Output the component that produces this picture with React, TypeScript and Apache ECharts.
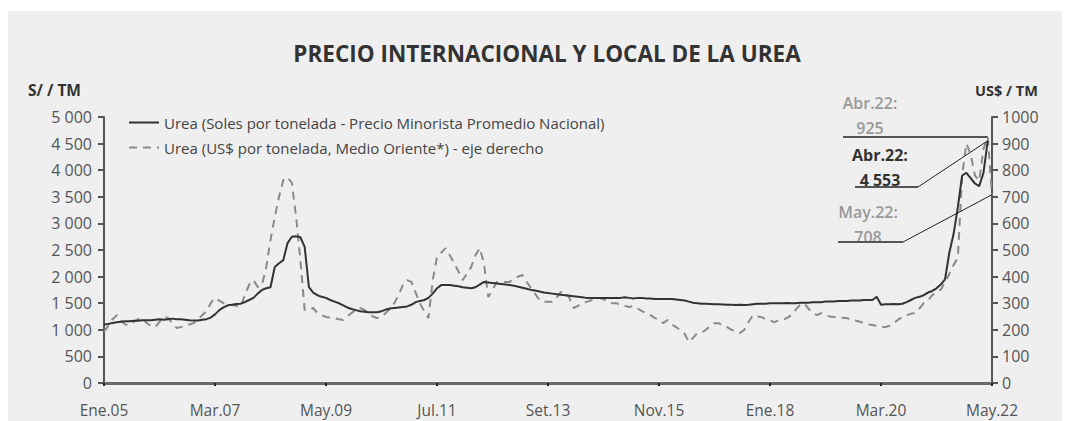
import React, { useEffect, useRef } from "react";
import * as echarts from "echarts";

const MONTHS = ["Ene", "Feb", "Mar", "Abr", "May", "Jun", "Jul", "Ago", "Set", "Oct", "Nov", "Dic"];
const FIRST_YEAR = 2005;
const LAST_YEAR = 2022;
const LAST_MONTH_INDEX = 4; // May

// Urea – Soles por tonelada (precio minorista promedio nacional), eje izquierdo
const soles2005 = [1100, 1110, 1130, 1140, 1150, 1160, 1160, 1170, 1170, 1180, 1180, 1180];
const soles2006 = [1190, 1200, 1190, 1200, 1210, 1200, 1200, 1190, 1180, 1175, 1175, 1190];
const soles2007 = [1200, 1230, 1290, 1370, 1420, 1460, 1470, 1485, 1490, 1520, 1560, 1600];
const soles2008 = [1680, 1750, 1780, 1800, 2180, 2250, 2310, 2630, 2750, 2760, 2740, 2560];
const soles2009 = [1800, 1700, 1650, 1620, 1600, 1560, 1530, 1500, 1460, 1420, 1390, 1370];
const soles2010 = [1350, 1340, 1330, 1330, 1330, 1350, 1380, 1400, 1410, 1420, 1430, 1440];
const soles2011 = [1470, 1520, 1540, 1560, 1600, 1680, 1780, 1840, 1840, 1840, 1830, 1820];
const soles2012 = [1800, 1790, 1780, 1800, 1850, 1900, 1890, 1880, 1870, 1860, 1850, 1840];
const soles2013 = [1830, 1810, 1790, 1770, 1750, 1740, 1720, 1700, 1690, 1680, 1670, 1660];
const soles2014 = [1650, 1640, 1630, 1620, 1610, 1600, 1600, 1600, 1600, 1600, 1600, 1600];
const soles2015 = [1600, 1600, 1610, 1600, 1590, 1600, 1600, 1590, 1590, 1580, 1580, 1580];
const soles2016 = [1580, 1580, 1570, 1560, 1550, 1530, 1510, 1500, 1490, 1490, 1485, 1480];
const soles2017 = [1480, 1475, 1470, 1470, 1466, 1470, 1466, 1470, 1480, 1490, 1490, 1490];
const soles2018 = [1500, 1500, 1500, 1500, 1505, 1500, 1500, 1510, 1510, 1510, 1520, 1520];
const soles2019 = [1520, 1530, 1530, 1530, 1540, 1540, 1540, 1550, 1550, 1550, 1560, 1560];
const soles2020 = [1560, 1620, 1470, 1480, 1480, 1485, 1480, 1490, 1520, 1560, 1600, 1620];
const soles2021 = [1650, 1700, 1730, 1780, 1850, 1950, 2450, 2800, 3300, 3900, 3950, 3850];
const soles2022 = [3750, 3700, 3950, 4553, null];

// Urea – US$ por tonelada, Medio Oriente, eje derecho
const usd2005 = [192, 215, 240, 255, 235, 220, 218, 230, 240, 244, 225, 215];
const usd2006 = [210, 230, 248, 245, 225, 207, 210, 215, 220, 225, 240, 255];
const usd2007 = [270, 300, 320, 310, 300, 295, 293, 290, 286, 330, 370, 387];
const usd2008 = [361, 368, 436, 538, 624, 700, 763, 774, 752, 624, 462, 274];
const usd2009 = [274, 282, 263, 255, 248, 246, 244, 240, 237, 250, 263, 275];
const usd2010 = [282, 275, 263, 250, 244, 250, 263, 280, 300, 330, 368, 387];
const usd2011 = [380, 340, 300, 270, 244, 387, 474, 490, 507, 480, 451, 420];
const usd2012 = [387, 410, 436, 480, 507, 451, 323, 350, 380, 380, 380, 380];
const usd2013 = [390, 400, 406, 380, 357, 335, 312, 305, 305, 305, 320, 342];
const usd2014 = [342, 320, 282, 290, 300, 305, 310, 315, 320, 315, 305, 300];
const usd2015 = [300, 293, 290, 286, 290, 280, 270, 263, 255, 245, 237, 225];
const usd2016 = [237, 220, 210, 199, 185, 154, 170, 188, 190, 200, 215, 225];
const usd2017 = [225, 215, 210, 200, 195, 188, 200, 230, 255, 250, 248, 240];
const usd2018 = [235, 229, 235, 237, 245, 255, 275, 293, 300, 280, 263, 255];
const usd2019 = [263, 255, 250, 248, 246, 245, 244, 238, 235, 230, 225, 220];
const usd2020 = [218, 215, 212, 210, 215, 225, 238, 248, 255, 260, 263, 280];
const usd2021 = [300, 310, 330, 345, 350, 380, 410, 444, 470, 780, 900, 860];
const usd2022 = [780, 760, 880, 925, 708];

const solesSeries = [
  ...soles2005, ...soles2006, ...soles2007, ...soles2008, ...soles2009, ...soles2010,
  ...soles2011, ...soles2012, ...soles2013, ...soles2014, ...soles2015, ...soles2016,
  ...soles2017, ...soles2018, ...soles2019, ...soles2020, ...soles2021, ...soles2022,
];
const usdSeries = [
  ...usd2005, ...usd2006, ...usd2007, ...usd2008, ...usd2009, ...usd2010,
  ...usd2011, ...usd2012, ...usd2013, ...usd2014, ...usd2015, ...usd2016,
  ...usd2017, ...usd2018, ...usd2019, ...usd2020, ...usd2021, ...usd2022,
];

const categories: string[] = [];
for (let y = FIRST_YEAR; y <= LAST_YEAR; y++) {
  const lastM = y === LAST_YEAR ? LAST_MONTH_INDEX : 11;
  for (let m = 0; m <= lastM; m++) {
    categories.push(`${MONTHS[m]}.${String(y % 100).padStart(2, "0")}`);
  }
}

const leftTicks = { min: 0, max: 5000, interval: 500 };
const rightTicks = { min: 0, max: 1000, interval: 100 };

const TITLE = "PRECIO INTERNACIONAL Y LOCAL DE LA UREA";
const LEFT_UNIT = "S/ / TM";
const RIGHT_UNIT = "US$ / TM";
const SERIES_SOLES = "Urea (Soles por tonelada - Precio Minorista Promedio Nacional)";
const SERIES_USD = "Urea (US$ por tonelada, Medio Oriente*) - eje derecho";

const ANN_USD_ABR = { cat: "Abr.22", label: "Abr.22:", value: 925 };
const ANN_SOLES_ABR = { cat: "Abr.22", label: "Abr.22:", value: 4553 };
const ANN_USD_MAY = { cat: "May.22", label: "May.22:", value: 708 };

const FONT = "'Open Sans', 'Noto Sans', sans-serif";
const fmtThousands = (v: number) => String(v).replace(/\B(?=(\d{3})+(?!\d))/g, " ");

export default function App() {
  const ref = useRef<HTMLDivElement>(null);

  useEffect(() => {
    if (!ref.current) return;
    const chart = echarts.init(ref.current, null, { renderer: "svg" });
    chart.setOption({
      animation: false,
      backgroundColor: "#efefef",
      textStyle: { fontFamily: FONT },
      title: {
        text: TITLE,
        left: 534,
        top: 26,
        textAlign: "center",
        textStyle: { fontFamily: FONT, fontSize: 22.5, fontWeight: "bold", color: "#333" },
      },
      legend: {
        orient: "vertical",
        left: 115,
        top: 99,
        itemWidth: 30,
        itemHeight: 10,
        itemGap: 10,
        itemStyle: { opacity: 0 },
        textStyle: { fontFamily: FONT, fontSize: 15, color: "#444" },
        data: [SERIES_SOLES, SERIES_USD],
      },
      grid: { left: 96, right: 78, top: 106, bottom: 38, containLabel: false },
      xAxis: {
        type: "category",
        data: categories,
        boundaryGap: false,
        axisLine: { lineStyle: { color: "#6a6a6a", width: 3 } },
        axisTick: { show: true, interval: 25, length: 3, lineStyle: { color: "#222", width: 2 } },
        axisLabel: { interval: 25, margin: 19, fontSize: 15.5, color: "#555", fontFamily: FONT },
        splitLine: { show: false },
      },
      yAxis: [
        {
          type: "value",
          ...leftTicks,
          position: "left",
          axisLine: { show: true, lineStyle: { color: "#555", width: 2 } },
          axisTick: { show: true, length: 6, lineStyle: { color: "#555", width: 2 } },
          axisLabel: { fontSize: 16, color: "#555", margin: 12, formatter: (v: number) => fmtThousands(v), fontFamily: FONT },
          splitLine: { show: false },
        },
        {
          type: "value",
          ...rightTicks,
          position: "right",
          axisLine: { show: true, lineStyle: { color: "#555", width: 2 } },
          axisTick: { show: true, length: 6, lineStyle: { color: "#555", width: 2 } },
          axisLabel: { fontSize: 16, color: "#555", margin: 10, formatter: (v: number) => String(v), fontFamily: FONT },
          splitLine: { show: false },
        },
      ],
      series: [
        {
          name: SERIES_SOLES,
          type: "line",
          yAxisIndex: 0,
          data: solesSeries,
          symbol: "none",
          lineStyle: { color: "#333", width: 2 },
          itemStyle: { color: "#333" },
          z: 3,
        },
        {
          name: SERIES_USD,
          type: "line",
          yAxisIndex: 1,
          data: usdSeries,
          symbol: "none",
          lineStyle: { color: "#8a8a8a", width: 2, type: [8, 6] },
          itemStyle: { color: "#8a8a8a" },
          z: 2,
        },
      ],
    });

    const pUsdAbr = chart.convertToPixel({ seriesIndex: 1 }, [ANN_USD_ABR.cat, ANN_USD_ABR.value]) as number[];
    const pSolAbr = chart.convertToPixel({ seriesIndex: 0 }, [ANN_SOLES_ABR.cat, ANN_SOLES_ABR.value]) as number[];
    const pUsdMay = chart.convertToPixel({ seriesIndex: 1 }, [ANN_USD_MAY.cat, ANN_USD_MAY.value]) as number[];

    const txt = (x: number, y: number, s: string, color: string, bold: boolean) => ({
      type: "text",
      x,
      y,
      style: {
        text: s,
        fill: color,
        font: `${bold ? "bold " : "600 "}16px ${FONT}`,
        textAlign: "center",
        textVerticalAlign: "middle",
      },
      z: 10,
    });
    const ln = (x1: number, y1: number, x2: number, y2: number, color: string, w: number) => ({
      type: "line",
      shape: { x1, y1, x2, y2 },
      style: { stroke: color, lineWidth: w },
      z: 10,
    });

    chart.setOption({
      graphic: [
        { type: "text", x: 20, y: 79, style: { text: LEFT_UNIT, fill: "#333", font: `bold 15.5px ${FONT}`, textVerticalAlign: "middle" } },
        { type: "text", x: 967, y: 79, style: { text: RIGHT_UNIT, fill: "#333", font: `bold 14.5px ${FONT}`, textVerticalAlign: "middle" } },
        txt(862, 92, ANN_USD_ABR.label, "#999", false),
        txt(862, 117, fmtThousands(ANN_USD_ABR.value), "#999", false),
        ln(835, pUsdAbr[1], pUsdAbr[0], pUsdAbr[1], "#555", 2),
        txt(872, 144, ANN_SOLES_ABR.label, "#333", true),
        txt(872, 169, fmtThousands(ANN_SOLES_ABR.value), "#333", true),
        ln(847, 176, 910, 176, "#555", 2),
        ln(910, 176, pSolAbr[0], pSolAbr[1], "#222", 1),
        txt(860, 201, ANN_USD_MAY.label, "#999", false),
        txt(860, 226, fmtThousands(ANN_USD_MAY.value), "#999", false),
        ln(830, 231, 895, 231, "#555", 2),
        ln(895, 231, pUsdMay[0], pUsdMay[1], "#222", 1),
      ],
    });

    return () => chart.dispose();
  }, []);

  return (
    <div style={{ paddingTop: 3, background: "#fff" }}>
      <div ref={ref} style={{ width: 1062, height: 410 }} />
    </div>
  );
}
